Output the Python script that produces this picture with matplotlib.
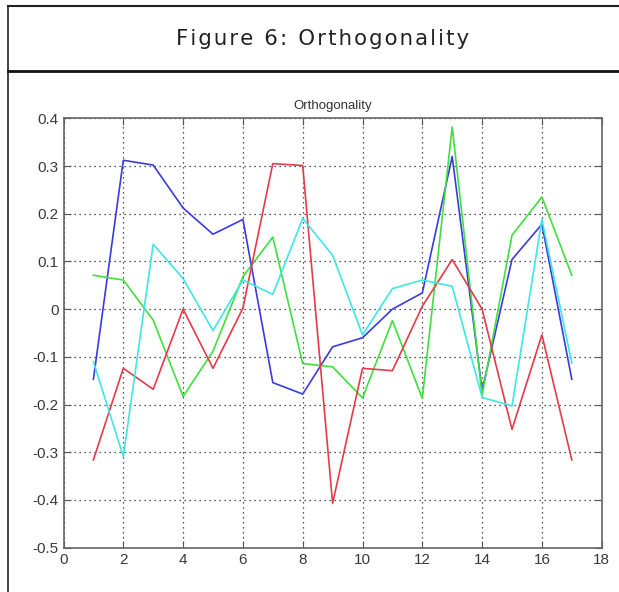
import numpy as np
import matplotlib
matplotlib.use("Agg")
import matplotlib.pyplot as plt
from matplotlib.lines import Line2D

# values
x_vals = list(range(1, 18))
blue_vals = [-0.147, 0.312, 0.302, 0.212, 0.157, 0.188, -0.154, -0.178, -0.079,
             -0.060, 0.000, 0.034, 0.320, -0.170, 0.104, 0.178, -0.147]
green_vals = [0.071, 0.061, -0.023, -0.183, -0.088, 0.068, 0.151, -0.114, -0.121,
              -0.186, -0.024, -0.187, 0.382, -0.180, 0.155, 0.235, 0.071]
red_vals = [-0.316, -0.124, -0.168, 0.000, -0.124, 0.002, 0.305, 0.301, -0.407,
            -0.124, -0.129, 0.006, 0.104, 0.000, -0.252, -0.054, -0.316]
cyan_vals = [-0.110, -0.309, 0.136, 0.064, -0.045, 0.061, 0.031, 0.190, 0.113,
             -0.054, 0.043, 0.061, 0.048, -0.185, -0.203, 0.188, -0.113]

header = "Figure 6: Orthogonality"
title = "Orthogonality"
xticks = [0, 2, 4, 6, 8, 10, 12, 14, 16, 18]
yticks = [-0.5, -0.4, -0.3, -0.2, -0.1, 0, 0.1, 0.2, 0.3, 0.4]

fig = plt.figure(figsize=(6.19, 5.92), dpi=100)
fig.patch.set_facecolor("white")

# outer box and header line
fig.add_artist(Line2D([8 / 619, 8 / 619], [0, 1 - 6 / 592], color="#333333", lw=1.3))
fig.add_artist(Line2D([8 / 619, 1], [1 - 6 / 592, 1 - 6 / 592], color="#222222", lw=1.5))
fig.add_artist(Line2D([8 / 619, 1], [1 - 71 / 592, 1 - 71 / 592], color="#111111", lw=2.0))
# header is letter-spaced in the reference -> hair spaces between glyphs
spaced = "\u200a".join(header)
fig.text(323 / 619, 1 - 39 / 592, spaced, ha="center", va="center",
         fontsize=15.3, family="DejaVu Sans", color="#222222")

ax = fig.add_axes([63.5 / 619, 44.3 / 592, (601.7 - 63.5) / 619, (547.7 - 118.3) / 592])

ax.plot(x_vals, blue_vals, color="#3a3ae0", lw=1.2)
ax.plot(x_vals, green_vals, color="#3ee03e", lw=1.2)
ax.plot(x_vals, red_vals, color="#e53a4a", lw=1.2)
ax.plot(x_vals, cyan_vals, color="#3ee6e6", lw=1.2)

ax.set_xlim(0, 18)
ax.set_ylim(-0.5, 0.4)
ax.set_xticks(xticks)
ax.set_yticks(yticks)
ax.set_xticklabels([str(t) for t in xticks])
ax.set_yticklabels(["%g" % t for t in yticks])
ax.grid(True, color="#222222", linestyle=(0, (1, 3)), lw=0.9)
ax.tick_params(direction="in", top=True, right=True, length=5, color="#555555",
               labelsize=11, labelcolor="#3a3a3a")
for lab in ax.get_xticklabels() + ax.get_yticklabels():
    lab.set_family("Liberation Sans")
for s in ax.spines.values():
    s.set_color("#666666")
    s.set_linewidth(1.2)
ax.set_title(title, fontsize=9.5, family="Liberation Sans", color="#333333", pad=7)

plt.savefig("out.png", dpi=100)
